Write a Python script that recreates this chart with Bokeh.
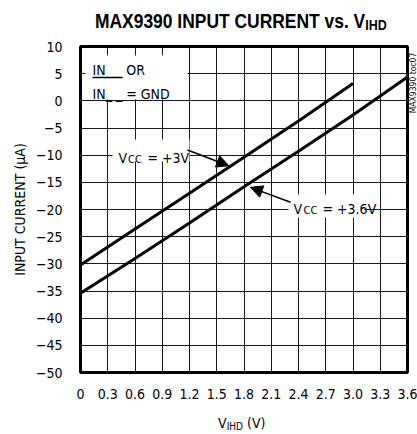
import numpy as np
from bokeh.plotting import figure
from bokeh.models import FixedTicker, Label, BoxAnnotation, Arrow, NormalHead, Range1d, Div
from bokeh.layouts import column
from bokeh.embed import file_html
from bokeh.resources import INLINE

# ---- data ----
vihd_3v = [0.0, 0.6, 1.2, 1.8, 2.4, 3.0]
iin_3v = [-30.2, -23.6, -17.0, -10.4, -3.7, 3.2]
vihd_36v = [0.0, 0.6, 1.2, 1.8, 2.4, 3.0, 3.6]
iin_36v = [-35.4, -29.0, -22.5, -15.8, -9.3, -2.6, 4.4]

x_ticks = [0, 0.3, 0.6, 0.9, 1.2, 1.5, 1.8, 2.1, 2.4, 2.7, 3.0, 3.3, 3.6]
x_tick_labels = ["0", "0.3", "0.6", "0.9", "1.2", "1.5", "1.8", "2.1", "2.4", "2.7", "3.0", "3.3", "3.6"]
y_ticks = [-50, -45, -40, -35, -30, -25, -20, -15, -10, -5, 0, 5, 10]

FONT = "DejaVu Sans Condensed"

W = 417
TOP_DIV = 38
BL, BR, BT, BB = 80, 10, 8, 32
FW, FH = 327, 326
H = BT + FH + BB
BOT_DIV = 28
XMIN, XMAX, YMIN, YMAX = 0.0, 3.6, -50.0, 10.0
FRAME_L, FRAME_T = BL, TOP_DIV + BT   # frame origin in page pixels
BOT_TOP = TOP_DIV + H                 # page y of the bottom div


def dx(ix):  # page px -> data x
    return XMIN + (ix - FRAME_L) / FW * (XMAX - XMIN)


def dy(iy):  # page px -> data y
    return YMAX - (iy - FRAME_T) / FH * (YMAX - YMIN)


p = figure(width=W, height=H, output_backend="svg", toolbar_location=None,
           x_range=Range1d(XMIN, XMAX), y_range=Range1d(YMIN, YMAX),
           min_border_left=BL, min_border_right=BR, min_border_top=BT, min_border_bottom=BB)
p.background_fill_color = "white"
p.border_fill_color = "white"
p.outline_line_color = "black"
p.outline_line_width = 3

p.xaxis.ticker = FixedTicker(ticks=x_ticks)
p.xaxis.major_label_overrides = {t: l for t, l in zip(x_ticks, x_tick_labels)}
p.yaxis.ticker = FixedTicker(ticks=y_ticks)
for ax in (p.xaxis[0], p.yaxis[0]):
    ax.axis_line_color = None
    ax.major_tick_line_color = None
    ax.minor_tick_line_color = None
    ax.major_tick_out = 0
    ax.major_tick_in = 0
    ax.major_label_text_font = FONT
    ax.major_label_text_font_size = "14px"
    ax.major_label_text_color = "black"
p.xaxis.major_label_standoff = 16
p.yaxis.major_label_standoff = 18
p.yaxis.axis_label = "INPUT CURRENT (µA)"
p.yaxis.axis_label_text_font = FONT
p.yaxis.axis_label_text_font_size = "14px"
p.yaxis.axis_label_text_font_style = "normal"
p.yaxis.axis_label_text_color = "black"
p.yaxis.axis_label_standoff = 5

p.xgrid.ticker = FixedTicker(ticks=x_ticks)
p.ygrid.ticker = FixedTicker(ticks=y_ticks)
for g in (p.xgrid[0], p.ygrid[0]):
    g.grid_line_color = "black"
    g.grid_line_width = 1
    g.grid_line_alpha = 0.9

p.line(vihd_3v, iin_3v, line_color="black", line_width=3)
p.line(vihd_36v, iin_36v, line_color="black", line_width=3)


def lab(text, ix, iy, size="14px", align="left", baseline="alphabetic"):
    p.add_layout(Label(x=dx(ix), y=dy(iy), text=text, text_font=FONT, text_font_size=size,
                       text_color="black", text_align=align, text_baseline=baseline))


def wbox(ix0, ix1, iy0, iy1, color="white"):
    p.add_layout(BoxAnnotation(left=dx(ix0), right=dx(ix1), top=dy(iy0), bottom=dy(iy1),
                               fill_color=color, fill_alpha=1.0, line_color=None))


# legend box top-left
wbox(85, 187, 55, 99)
lab("IN_ _ OR", 92, 69)
lab("IN_ _ = GND", 92, 93)
wbox(92, 122, 76.3, 77.8, color="black")

# Vcc = +3V annotation
wbox(112, 189, 139, 161)
lab("V", 118, 157)
lab("CC", 127.5, 159, size="11px")
lab("= +3V", 147, 157)
tx1 = dx(228.3)
p.add_layout(Arrow(end=NormalHead(size=12, fill_color="black", line_color="black"),
                   x_start=dx(187), y_start=dy(149.5),
                   x_end=tx1, y_end=float(np.interp(tx1, vihd_3v, iin_3v)) + 0.3,
                   line_color="black", line_width=1.5))

# Vcc = +3.6V annotation
wbox(288, 364, 194, 217)
lab("V", 293, 208)
lab("CC", 303, 210, size="11px")
lab("= +3.6V", 322, 208)
tx2 = dx(250)
p.add_layout(Arrow(end=NormalHead(size=12, fill_color="black", line_color="black"),
                   x_start=dx(290), y_start=dy(201.7),
                   x_end=tx2, y_end=float(np.interp(tx2, vihd_36v, iin_36v)) - 0.9,
                   line_color="black", line_width=1.5))

title_html = (
    '<div style="position:absolute;left:95px;top:10px;white-space:nowrap;'
    'font-family:\'Liberation Sans\',sans-serif;font-weight:bold;font-size:21px;line-height:21px;'
    'color:black;transform:scaleX(0.83);transform-origin:left top;">'
    'MAX9390 INPUT CURRENT vs. V<span style="font-size:15px;vertical-align:-2px;">IHD</span></div>'
)
title_div = Div(text=title_html, width=W, height=TOP_DIV, margin=(0, 0, 0, 0),
                styles={"position": "relative", "overflow": "visible"})

side_top = 82.5 - BOT_TOP
xlabel_html = (
    '<div style="position:absolute;left:218px;top:12px;white-space:nowrap;'
    'font-family:\'DejaVu Sans Condensed\',sans-serif;font-size:14px;line-height:14px;'
    'color:black;">'
    'V<span style="font-size:10px;vertical-align:-2px;">IHD</span> (V)</div>'
    '<div style="position:absolute;left:412.5px;top:%.1fpx;white-space:nowrap;'
    'font-family:\'DejaVu Sans Condensed\',sans-serif;font-size:8.5px;line-height:9px;color:black;'
    'transform:translate(-50%%,-50%%) rotate(-90deg);">MAX9390 toc07</div>' % side_top
)
xlabel_div = Div(text=xlabel_html, width=W, height=BOT_DIV, margin=(0, 0, 0, 0),
                 styles={"position": "relative", "overflow": "visible", "z-index": "10"})

layout = column(title_div, p, xlabel_div, spacing=0)

open("out.html", "w").write(file_html(layout, INLINE))
